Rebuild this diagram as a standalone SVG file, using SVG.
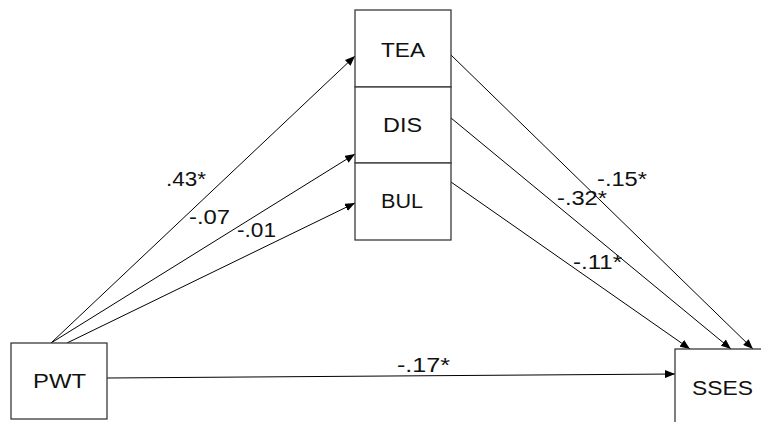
<svg xmlns="http://www.w3.org/2000/svg" width="761" height="422" viewBox="0 0 761 422">
  <style>
    .box { fill: #ffffff; stroke: #3a3a3a; stroke-width: 1.3; }
    .lbl { font-family: "Liberation Sans", Arial, sans-serif; font-size: 20px; fill: #111111; }
    .path { stroke: #000000; stroke-width: 1; fill: none; marker-end: url(#head); }
  </style>
  <defs>
    <marker id="head" viewBox="0 0 10 8" refX="10" refY="4" markerWidth="10" markerHeight="8" markerUnits="userSpaceOnUse" orient="auto">
      <path d="M0,0 L10,4 L0,8 Z" fill="#000000"/>
    </marker>
  </defs>

  <rect width="761" height="422" fill="#ffffff"/>

  <!-- paths between variables -->
  <g id="connectors">
    <line class="path" x1="51" y1="343" x2="355" y2="56"/>
    <line class="path" x1="51" y1="343" x2="355" y2="154"/>
    <line class="path" x1="67" y1="343" x2="355" y2="203"/>
    <line class="path" x1="451" y1="55" x2="753" y2="349"/>
    <line class="path" x1="451" y1="118" x2="731" y2="349"/>
    <line class="path" x1="451" y1="182" x2="690" y2="349"/>
    <line class="path" x1="107" y1="378" x2="675" y2="374"/>
  </g>

  <!-- path coefficients -->
  <g id="coefficients">
    <text class="lbl" x="166" y="186" textLength="40" lengthAdjust="spacingAndGlyphs">.43*</text>
    <text class="lbl" x="189" y="224" textLength="41" lengthAdjust="spacingAndGlyphs">-.07</text>
    <text class="lbl" x="237" y="237" textLength="39" lengthAdjust="spacingAndGlyphs">-.01</text>
    <text class="lbl" x="597" y="186" textLength="50" lengthAdjust="spacingAndGlyphs">-.15*</text>
    <text class="lbl" x="557" y="205" textLength="50" lengthAdjust="spacingAndGlyphs">-.32*</text>
    <text class="lbl" x="573" y="269" textLength="49" lengthAdjust="spacingAndGlyphs">-.11*</text>
    <text class="lbl" x="397" y="372" textLength="53" lengthAdjust="spacingAndGlyphs">-.17*</text>
  </g>

  <g id="PWT">
    <rect class="box" x="11" y="343" width="96" height="76"/>
    <text class="lbl" x="33" y="388" textLength="53" lengthAdjust="spacingAndGlyphs">PWT</text>
  </g>

  <g id="TEA">
    <rect class="box" x="355" y="10" width="96" height="77"/>
    <text class="lbl" x="381" y="57" textLength="44" lengthAdjust="spacingAndGlyphs">TEA</text>
  </g>

  <g id="DIS">
    <rect class="box" x="355" y="87" width="96" height="76"/>
    <text class="lbl" x="383" y="132" textLength="39" lengthAdjust="spacingAndGlyphs">DIS</text>
  </g>

  <g id="BUL">
    <rect class="box" x="355" y="163" width="96" height="77"/>
    <text class="lbl" x="381" y="208" textLength="42" lengthAdjust="spacingAndGlyphs">BUL</text>
  </g>

  <g id="SSES">
    <rect class="box" x="675" y="349" width="100" height="80"/>
    <text class="lbl" x="692" y="395" textLength="61" lengthAdjust="spacingAndGlyphs">SSES</text>
  </g>
</svg>
